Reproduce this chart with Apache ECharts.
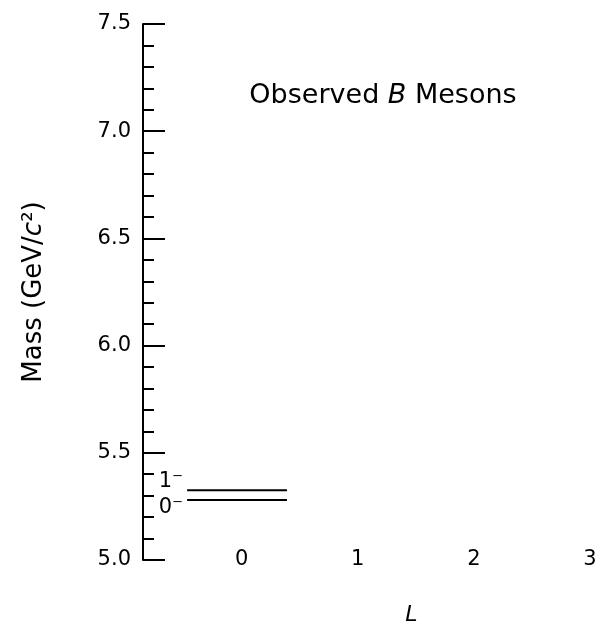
<!DOCTYPE html>
<html>
<head>
<meta charset="utf-8">
<script src="https://cdn.jsdelivr.net/npm/echarts@6/dist/echarts.min.js"></script>
<style>
  html, body { margin: 0; padding: 0; background: #fff; }
  #chart { width: 602px; height: 631px; }
</style>
</head>
<body>
<div id="chart"></div>
<script>
  // observed B meson states (J^P) and masses in GeV/c^2
  var stateNames = ['0\u207B', '1\u207B'];
  var stateL = [0, 0];
  var stateMass = [5.280, 5.325];
  // horizontal extent of each level, in L units
  var levelFrom = -0.47;
  var levelTo = 0.39;
  var lTicks = [0, 1, 2, 3];

  var font = 'DejaVu Sans';

  var levelSeries = stateNames.map(function (name, i) {
    return {
      type: 'line',
      name: name,
      symbol: 'circle',
      symbolSize: 0,
      showSymbol: true,
      silent: true,
      lineStyle: { color: '#000', width: 2 },
      data: [
        {
          value: [stateL[i] + levelFrom, stateMass[i]],
          label: {
            show: true,
            position: 'left',
            distance: 4,
            offset: [0, i === 0 ? 8 : -9],
            formatter: name,
            color: '#000',
            fontFamily: font,
            fontSize: 21
          }
        },
        [stateL[i] + levelTo, stateMass[i]]
      ]
    }
  });

  var chart = echarts.init(document.getElementById('chart'));
  chart.setOption({
    animation: false,
    backgroundColor: '#fff',
    title: {
      text: 'Observed {i|B} Mesons',
      left: 378,
      top: 77,
      textAlign: 'center',
      textStyle: {
        fontFamily: font,
        fontSize: 27,
        fontWeight: 'normal',
        color: '#000',
        rich: {
          i: { fontFamily: font, fontSize: 27, fontStyle: 'italic', color: '#000' }
        }
      }
    },
    grid: { left: 143, right: 12, top: 24, bottom: 70 },
    xAxis: {
      type: 'value',
      min: -0.85,
      max: 3,
      name: 'L',
      nameLocation: 'middle',
      nameGap: 44,
      nameTextStyle: {
        fontFamily: font,
        fontSize: 22,
        fontStyle: 'italic',
        color: '#000',
        padding: [0, 0, 0, 90]
      },
      axisLine: { show: false },
      axisTick: { show: false },
      splitLine: { show: false },
      axisLabel: {
        customValues: lTicks,
        margin: 0,
        verticalAlign: 'middle',
        color: '#000',
        fontFamily: font,
        fontSize: 21
      }
    },
    yAxis: {
      type: 'value',
      min: 5.0,
      max: 7.5,
      interval: 0.5,
      name: 'Mass (GeV/{i|c}\u00B2)',
      nameLocation: 'middle',
      nameGap: 96,
      nameTextStyle: {
        fontFamily: font,
        fontSize: 26,
        color: '#000',
        rich: {
          i: { fontFamily: font, fontSize: 26, fontStyle: 'italic', color: '#000' }
        }
      },
      axisLine: { show: true, onZero: false, lineStyle: { color: '#000', width: 2 } },
      axisTick: { show: true, inside: true, length: 22, lineStyle: { color: '#000', width: 2 } },
      minorTick: { show: true, splitNumber: 5, length: 11, lineStyle: { color: '#000', width: 2 } },
      splitLine: { show: false },
      axisLabel: {
        margin: 12,
        color: '#000',
        fontFamily: font,
        fontSize: 21,
        formatter: function (v) { return v.toFixed(1); }
      }
    },
    series: levelSeries
  });
</script>
</body>
</html>
